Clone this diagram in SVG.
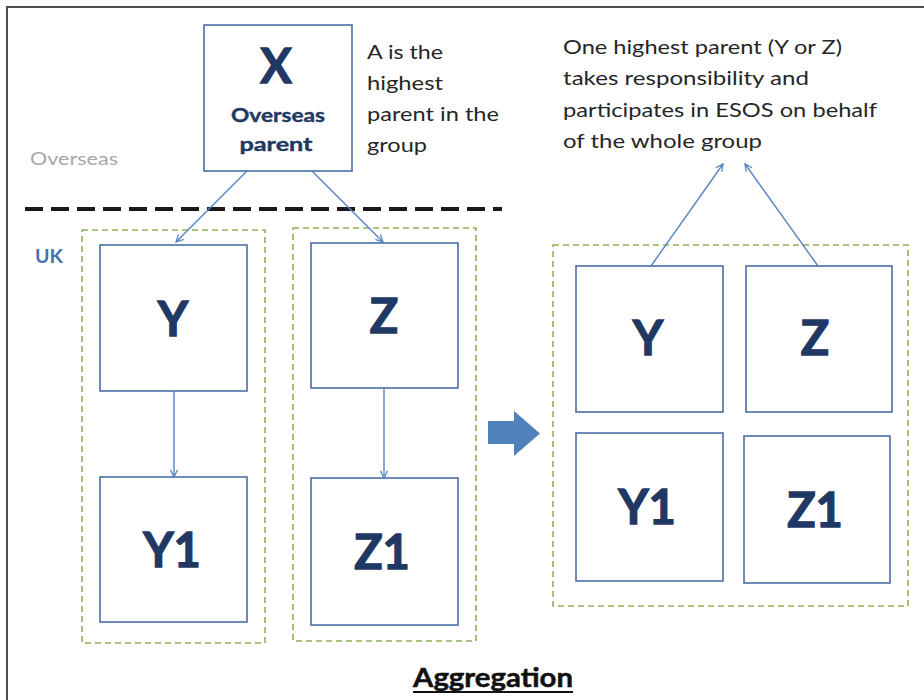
<svg xmlns="http://www.w3.org/2000/svg" width="924" height="700" viewBox="0 0 924 700">
  <defs>
    <style>
      .box { fill: #ffffff; stroke: #4a6fa6; stroke-width: 1.6; }
      .grp { fill: none; stroke: #8fb056; stroke-width: 1.6; stroke-dasharray: 6 4; }
      .conn { fill: none; stroke: #5585c0; stroke-width: 1.4; marker-end: url(#open); }
      .big { font-family: Lato, "Liberation Sans", sans-serif; font-weight: bold; font-size: 47px; fill: #1f3864; stroke: #1f3864; stroke-width: 1.3; text-anchor: middle; }
      .sub { font-family: Lato, "Liberation Sans", sans-serif; font-weight: bold; font-size: 19px; fill: #1f3864; stroke: #1f3864; stroke-width: 0.4; text-anchor: middle; }
      .note { font-family: Lato, "Liberation Sans", sans-serif; font-size: 20px; fill: #262626; }
    </style>
    <marker id="open" viewBox="0 0 10 10" refX="9" refY="5" markerWidth="9" markerHeight="9" markerUnits="userSpaceOnUse" orient="auto">
      <path d="M1,1 L9,5 L1,9" fill="none" stroke="#5585c0" stroke-width="1.4"/>
    </marker>
  </defs>

  <rect width="924" height="700" fill="#ffffff"/>
  <!-- outer frame (top and left edges visible) -->
  <path d="M7,700 L7,7 L924,7" fill="none" stroke="#4d4d4d" stroke-width="2"/>

  <!-- region labels and boundary -->
  <text x="30" y="165" font-family="Lato, 'Liberation Sans', sans-serif" font-size="18" fill="#a6a6a6" textLength="88" lengthAdjust="spacingAndGlyphs">Overseas</text>
  <line x1="25" y1="209" x2="502" y2="209" stroke="#1a1a1a" stroke-width="4" stroke-dasharray="18 8"/>
  <text x="35" y="263" font-family="Lato, 'Liberation Sans', sans-serif" font-size="18" font-weight="bold" fill="#4672b0" textLength="28" lengthAdjust="spacingAndGlyphs">UK</text>

  <!-- group outlines -->
  <rect class="grp" x="82" y="230" width="183" height="413"/>
  <rect class="grp" x="293" y="228" width="183" height="413"/>
  <rect class="grp" x="553" y="245" width="355" height="361"/>

  <!-- overseas parent -->
  <g id="node-x">
    <rect class="box" x="204" y="25" width="148" height="146"/>
    <text class="big" x="276" y="83" font-size="46">X</text>
    <text class="sub" x="278" y="122" textLength="94" lengthAdjust="spacingAndGlyphs">Overseas</text>
    <text class="sub" x="276" y="151" textLength="73" lengthAdjust="spacingAndGlyphs">parent</text>
  </g>

  <g id="note-x">
    <text class="note" x="367" y="59" textLength="76" lengthAdjust="spacingAndGlyphs">A is the</text>
    <text class="note" x="367" y="90" textLength="76" lengthAdjust="spacingAndGlyphs">highest</text>
    <text class="note" x="367" y="121" textLength="132" lengthAdjust="spacingAndGlyphs">parent in the</text>
    <text class="note" x="367" y="152" textLength="60" lengthAdjust="spacingAndGlyphs">group</text>
  </g>

  <!-- UK subsidiaries -->
  <g id="node-y">
    <rect class="box" x="100" y="245" width="147" height="146"/>
    <text class="big" x="173" y="336">Y</text>
  </g>
  <g id="node-y1">
    <rect class="box" x="100" y="477" width="147" height="145"/>
    <text class="big" x="172" y="567">Y1</text>
  </g>
  <g id="node-z">
    <rect class="box" x="311" y="243" width="147" height="145"/>
    <text class="big" x="384" y="333">Z</text>
  </g>
  <g id="node-z1">
    <rect class="box" x="311" y="478" width="147" height="147"/>
    <text class="big" x="382" y="569">Z1</text>
  </g>

  <!-- aggregation arrow -->
  <g id="aggregate-arrow">
    <polygon points="488,421 514,421 514,411 540,433.5 514,456 514,444 488,444" fill="#4f81bd"/>
  </g>

  <!-- aggregated group -->
  <g id="node-ry">
    <rect class="box" x="576" y="266" width="147" height="146"/>
    <text class="big" x="648" y="355">Y</text>
  </g>
  <g id="node-rz">
    <rect class="box" x="746" y="266" width="146" height="146"/>
    <text class="big" x="815" y="355">Z</text>
  </g>
  <g id="node-ry1">
    <rect class="box" x="576" y="433" width="147" height="148"/>
    <text class="big" x="647" y="524">Y1</text>
  </g>
  <g id="node-rz1">
    <rect class="box" x="744" y="436" width="146" height="147"/>
    <text class="big" x="815" y="527">Z1</text>
  </g>

  <g id="note-group">
    <text class="note" x="563" y="54" textLength="279" lengthAdjust="spacingAndGlyphs">One highest parent (Y or Z)</text>
    <text class="note" x="563" y="85" textLength="246" lengthAdjust="spacingAndGlyphs">takes responsibility and</text>
    <text class="note" x="563" y="117" textLength="314" lengthAdjust="spacingAndGlyphs">participates in ESOS on behalf</text>
    <text class="note" x="563" y="148" textLength="199" lengthAdjust="spacingAndGlyphs">of the whole group</text>
  </g>

  <!-- connectors -->
  <g id="connectors">
    <line class="conn" x1="247" y1="171" x2="176" y2="242"/>
    <line class="conn" x1="312" y1="171" x2="383" y2="242"/>
    <line class="conn" x1="174" y1="391" x2="174" y2="477"/>
    <line class="conn" x1="384" y1="388" x2="384" y2="478"/>
    <line class="conn" x1="651" y1="266" x2="723" y2="164"/>
    <line class="conn" x1="818" y1="266" x2="745" y2="164"/>
  </g>

  <!-- caption -->
  <g id="caption">
    <text x="413" y="687" font-family="Lato, 'Liberation Sans', sans-serif" font-weight="bold" font-size="27" fill="#111111" stroke="#111111" stroke-width="0.5" textLength="160" lengthAdjust="spacingAndGlyphs">Aggregation</text>
    <line x1="413" y1="692" x2="573" y2="692" stroke="#111111" stroke-width="2"/>
  </g>
</svg>
